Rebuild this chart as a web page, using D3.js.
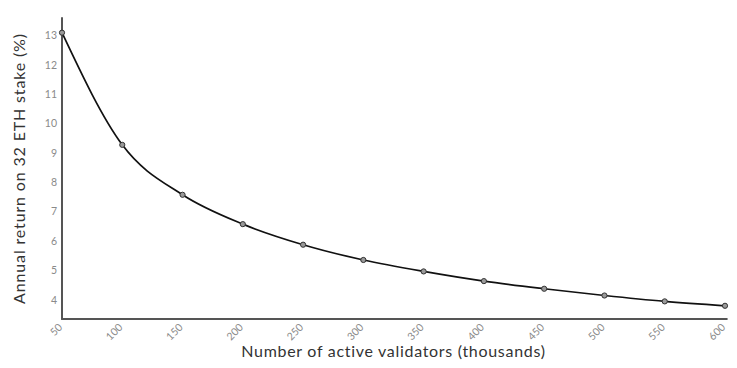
<!DOCTYPE html>
<html>
<head>
<meta charset="utf-8">
<script src="https://cdn.jsdelivr.net/npm/d3@7"></script>
<style>
  html, body { margin: 0; padding: 0; background: #fff; }
  svg { display: block; }
  text { font-family: Lato, "Open Sans", sans-serif; }
</style>
</head>
<body>
<svg id="chart" width="737" height="368"></svg>
<script>
// Data
const validators = [50, 100, 150, 200, 250, 300, 350, 400, 450, 500, 550, 600];
const annualReturn = [13.1, 9.28, 7.58, 6.58, 5.88, 5.36, 4.97, 4.64, 4.38, 4.15, 3.95, 3.8];
const xTicks = [50, 100, 150, 200, 250, 300, 350, 400, 450, 500, 550, 600];
const yTicks = [4, 5, 6, 7, 8, 9, 10, 11, 12, 13];
const xTitle = "Number of active validators (thousands)";
const yTitle = "Annual return on 32 ETH stake (%)";

const W = 737, H = 368;
const svg = d3.select("#chart");

const x = d3.scaleLinear().domain([50, 600]).range([62, 725]);
const y = d3.scaleLinear().domain([3.35, 13.6]).range([319, 18]);

const axisColor = "#555";
const labelColor = "#8a8a8a";

// Y axis line
svg.append("line")
  .attr("x1", x(50)).attr("x2", x(50))
  .attr("y1", y(13.6)).attr("y2", y(3.35))
  .attr("stroke", axisColor).attr("stroke-width", 2).attr("stroke-linecap", "round");
// X axis line
svg.append("line")
  .attr("x1", x(50)).attr("x2", x(601.5))
  .attr("y1", y(3.35)).attr("y2", y(3.35))
  .attr("stroke", axisColor).attr("stroke-width", 2).attr("stroke-linecap", "round");

// Y tick labels
svg.append("g").selectAll("text").data(yTicks).join("text")
  .attr("x", x(50) - 5)
  .attr("y", d => y(d))
  .attr("dy", "0.35em")
  .attr("text-anchor", "end")
  .attr("font-size", 10.5)
  .attr("fill", labelColor)
  .text(d => d);

// X tick labels (rotated)
svg.append("g").selectAll("text").data(xTicks).join("text")
  .attr("transform", d => `translate(${x(d) + 1},${y(3.35) + 9}) rotate(-45)`)
  .attr("text-anchor", "end")
  .attr("font-size", 10.5)
  .attr("fill", labelColor)
  .text(d => d);

// Axis titles
svg.append("text")
  .attr("x", (x(50) + x(600)) / 2)
  .attr("y", 357)
  .attr("text-anchor", "middle")
  .attr("font-size", 16)
  .attr("fill", "#333")
  .attr("letter-spacing", 0.7)
  .text(xTitle);

svg.append("text")
  .attr("transform", `translate(25,${(y(3.35) + y(13.6)) / 2}) rotate(-90)`)
  .attr("text-anchor", "middle")
  .attr("font-size", 16)
  .attr("fill", "#333")
  .attr("letter-spacing", 0.85)
  .text(yTitle);

// Line
const data = validators.map((v, i) => ({ v, r: annualReturn[i] }));
const line = d3.line().x(d => x(d.v)).y(d => y(d.r)).curve(d3.curveMonotoneX);
svg.append("path")
  .datum(data)
  .attr("d", line)
  .attr("fill", "none")
  .attr("stroke", "#111")
  .attr("stroke-width", 1.7)
  .attr("stroke-linejoin", "round");

// Points
svg.append("g").selectAll("circle").data(data).join("circle")
  .attr("cx", d => x(d.v))
  .attr("cy", d => y(d.r))
  .attr("r", 2.6)
  .attr("fill", "#999")
  .attr("stroke", "#333")
  .attr("stroke-width", 1);
</script>
</body>
</html>
